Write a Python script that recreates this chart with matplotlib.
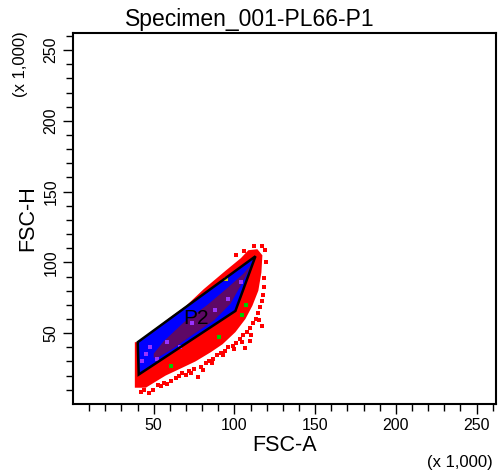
import numpy as np
import matplotlib
matplotlib.use('Agg')
import matplotlib.pyplot as plt
from matplotlib.ticker import FixedLocator

plt.rcParams['font.family'] = ['Liberation Sans', 'DejaVu Sans']

# Gate P2 (FSC-A, FSC-H en miles)
gate_x = [40.1, 40.7, 100.6, 113.0]
gate_y = [43.6, 20.7, 65.7, 104.3]

# Nube roja de eventos (zona densa)
nube_x = [40.1, 38.3, 38.3, 45.1, 51.2, 57.4, 66.7, 75.9, 85.2, 92.6, 100.6,
          106.8, 111.1, 114.8, 116.7, 117.3, 114.2, 108.6, 104.0, 94.4, 80.9,
          69.8, 60.5]
nube_y = [43.6, 43.6, 11.4, 11.4, 15.7, 20.0, 25.0, 30.0, 36.4, 42.1, 50.7,
          60.0, 69.3, 80.0, 92.9, 105.0, 109.3, 108.6, 103.0, 94.0, 81.0,
          69.0, 61.4]

# Eventos sueltos en el borde
sueltos_x = [42.0, 46.9, 49.4, 54.3, 56.2, 60.5, 63.6, 65.4, 69.8, 71.6, 74.7,
             77.2, 79.0, 82.1, 84.0, 87.0, 89.5, 91.4, 94.4, 96.3, 98.8, 101.2,
             103.7, 105.6, 108.0, 109.9, 111.7, 113.6, 114.8, 116.0, 117.3,
             117.9, 118.5, 118.5, 117.3, 109.9, 119.8, 119.1, 117.3, 112.3,
             106.2, 101.2, 106.8, 44.0, 52.5, 58.5, 67.5, 73.0, 80.5, 86.0,
             93.0, 99.5, 104.5, 110.5, 115.5]
sueltos_y = [8.6, 7.9, 10.0, 12.9, 15.0, 16.4, 18.6, 20.0, 20.7, 22.9, 24.3,
             19.3, 25.7, 28.6, 30.0, 31.4, 34.3, 35.7, 37.1, 40.0, 40.7, 42.9,
             45.7, 48.6, 50.7, 53.6, 57.1, 60.0, 64.3, 68.6, 72.9, 77.1, 82.9,
             88.6, 55.0, 44.3, 100.0, 108.6, 111.4, 111.4, 107.9, 105.0, 39.3,
             9.5, 13.5, 14.0, 21.5, 22.0, 24.0, 29.0, 34.5, 39.0, 44.0, 49.0,
             59.0]

# Zona densa morada dentro de P2
morado_x = [50.0, 56.0, 68.5, 83.3, 95.7, 105.6, 111.1, 111.5, 106.5, 97.5,
            87.0, 74.7, 62.3, 53.0, 50.0]
morado_y = [35.5, 44.0, 57.5, 70.0, 82.0, 92.0, 99.5, 101.0, 89.0, 70.7,
            58.6, 49.3, 39.3, 33.0, 32.5]

# Puntos de colores dentro del gate
lila_x = [43.0, 45.0, 48.0, 52.0, 58.0, 66.0, 74.0, 88.0, 96.0, 104.0]
lila_y = [30.0, 35.0, 40.0, 32.0, 44.0, 40.0, 57.0, 66.0, 74.0, 86.0]
verde_x = [61.0, 90.5, 104.5, 107.0]
verde_y = [27.0, 47.0, 63.0, 70.0]
amarillo_x = [95.0]
amarillo_y = [88.0]

ticks_mayores = [50, 100, 150, 200, 250]
ticks_menores = [10, 20, 30, 40, 60, 70, 80, 90, 110, 120, 130, 140, 160, 170,
                 180, 190, 210, 220, 230, 240, 260]

fig = plt.figure(figsize=(5.0, 4.74), dpi=100)
ax = fig.add_axes([0.146, 0.148, 0.846, 0.782])

ax.fill(nube_x, nube_y, color='#ff0000', lw=0, zorder=1)
ax.scatter(sueltos_x, sueltos_y, s=6, marker='s', color='#ff0000', lw=0, zorder=1)
ax.fill(gate_x, gate_y, color='#0000ff', lw=0, zorder=2)
ax.fill(morado_x, morado_y, color='#5e0866', lw=0, zorder=3)
ax.scatter(lila_x, lila_y, s=6, marker='s', color='#9933ff', lw=0, zorder=4)
ax.scatter(verde_x, verde_y, s=6, marker='s', color='#00cc00', lw=0, zorder=4)
ax.scatter(amarillo_x, amarillo_y, s=6, marker='s', color='#cccc00', lw=0, zorder=4)
ax.fill(gate_x, gate_y, fill=False, edgecolor='black', lw=1.8, zorder=5)
ax.text(76, 60, 'P2', fontsize=15, ha='center', va='center', zorder=6)

ax.set_xlim(0, 262)
ax.set_ylim(0, 262)
ax.xaxis.set_major_locator(FixedLocator(ticks_mayores))
ax.xaxis.set_minor_locator(FixedLocator(ticks_menores))
ax.yaxis.set_major_locator(FixedLocator(ticks_mayores))
ax.yaxis.set_minor_locator(FixedLocator(ticks_menores))
ax.tick_params(which='major', direction='out', length=7, width=1, labelsize=11.5)
ax.tick_params(which='minor', direction='out', length=5, width=1)
for lab in ax.get_yticklabels():
    lab.set_rotation(90)
    lab.set_va('center')
for sp in ax.spines.values():
    sp.set_linewidth(1.5)

fig.text(0.5, 0.935, 'Specimen_001-PL66-P1', fontsize=16.5, ha='center', va='bottom')
ax.set_xlabel('FSC-A', fontsize=15.5, labelpad=1)
ax.set_ylabel('FSC-H', fontsize=15.5, labelpad=4)
fig.text(0.92, 0.025, '(x 1,000)', fontsize=12, ha='center', va='center')
fig.text(0.04, 0.865, '(x 1,000)', fontsize=12, ha='center', va='center', rotation=90)

plt.savefig('out.png', dpi=100)
